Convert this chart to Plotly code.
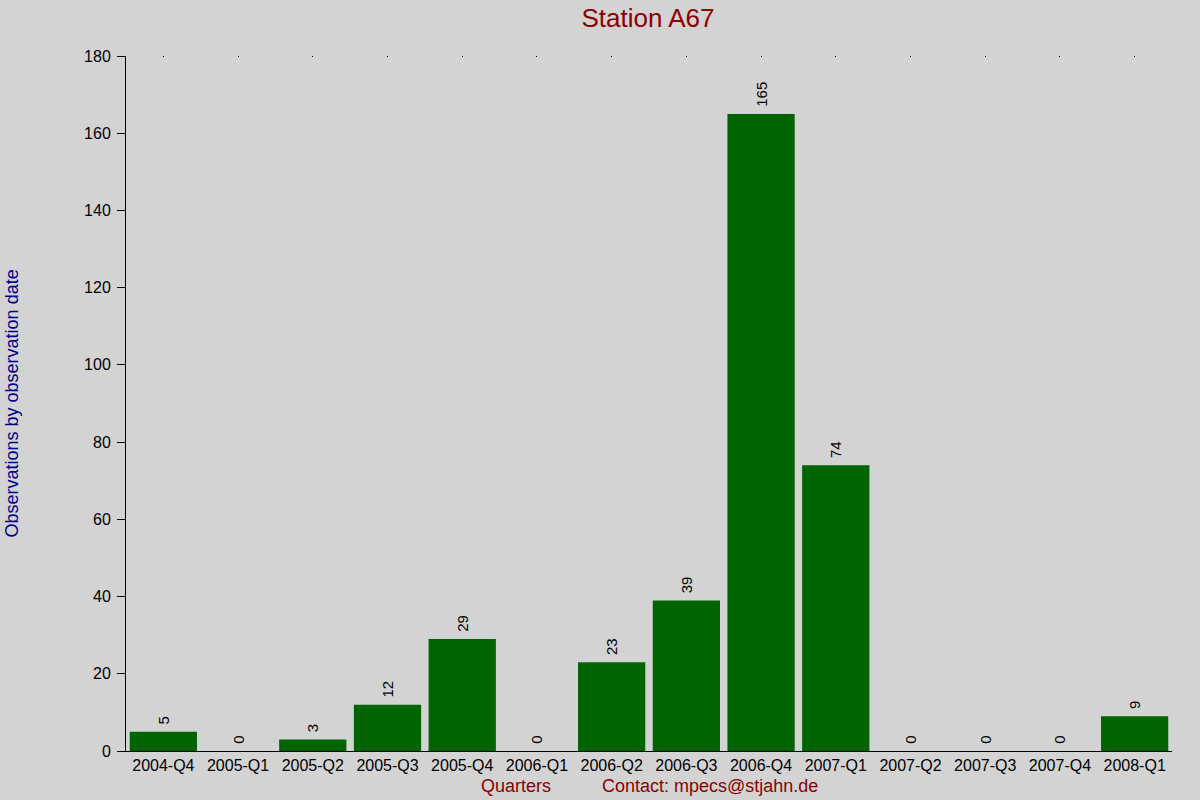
import plotly.graph_objects as go

# quarterly observation counts for station A67
quarters = ['2004-Q4', '2005-Q1', '2005-Q2', '2005-Q3', '2005-Q4', '2006-Q1', '2006-Q2',
            '2006-Q3', '2006-Q4', '2007-Q1', '2007-Q2', '2007-Q3', '2007-Q4', '2008-Q1']
counts = [5, 0, 3, 12, 29, 0, 23, 39, 165, 74, 0, 0, 0, 9]
y_ticks = [0, 20, 40, 60, 80, 100, 120, 140, 160, 180]

bg = '#d3d3d3'
font = 'Liberation Sans, Arial, sans-serif'
dark_red = '#8b0000'

fig = go.Figure()
fig.add_trace(go.Bar(
    x=quarters, y=counts,
    marker=dict(color='#006400', line=dict(width=0)),
    # leading nbsp gives a bit more room between bar top and rotated label
    text=['\u00a0' + str(c) for c in counts], textposition='outside', textangle=-90,
    textfont=dict(family=font, size=15, color='#000000'),
    cliponaxis=False,
))
# dummy trace so the top axis (dotted tick marks) gets drawn
fig.add_trace(go.Scatter(x=quarters, y=[None] * len(quarters), xaxis='x2',
                         showlegend=False, hoverinfo='skip'))

fig.update_layout(
    width=1200, height=800,
    paper_bgcolor=bg, plot_bgcolor=bg,
    margin=dict(l=126, r=28, t=56, b=49),
    bargap=0.1,
    showlegend=False,
    font=dict(family=font, size=16, color='#000000'),
    title=dict(text='Station A67', x=0.54, xanchor='center', y=0.9775, yanchor='middle',
               font=dict(family=font, size=26, color=dark_red)),
    xaxis=dict(range=[-0.5, 13.5], showline=True, linecolor='#000000', linewidth=1, ticks='',
               showgrid=False, zeroline=False, tickfont=dict(size=16)),
    xaxis2=dict(range=[-0.5, 13.5], overlaying='x', side='top', showline=False, ticks='inside',
                ticklen=1, tickcolor='#000000', showticklabels=False, showgrid=False),
    yaxis=dict(range=[0, 180], tickvals=y_ticks, showline=True, linecolor='#000000', linewidth=1,
               ticks='outside', ticklen=8, tickcolor='#000000', showgrid=False, zeroline=False,
               tickfont=dict(size=16), ticklabelstandoff=3),
)

fig.add_annotation(text='Observations by observation date', xref='paper', yref='paper',
                   x=-0.109, y=0.5, textangle=-90, xanchor='center', yanchor='middle',
                   showarrow=False, font=dict(family=font, size=18, color='#00008b'))
fig.add_annotation(text='Quarters', xref='paper', yref='paper', x=0.373, y=-0.0504,
                   xanchor='center', yanchor='middle', showarrow=False,
                   font=dict(family=font, size=18, color=dark_red))
fig.add_annotation(text='Contact: mpecs@stjahn.de', xref='paper', yref='paper', x=0.558, y=-0.0504,
                   xanchor='center', yanchor='middle', showarrow=False,
                   font=dict(family=font, size=18, color=dark_red))

fig.write_html('out.html', config={'displayModeBar': False},
               post_script="document.body.style.margin='0';")
